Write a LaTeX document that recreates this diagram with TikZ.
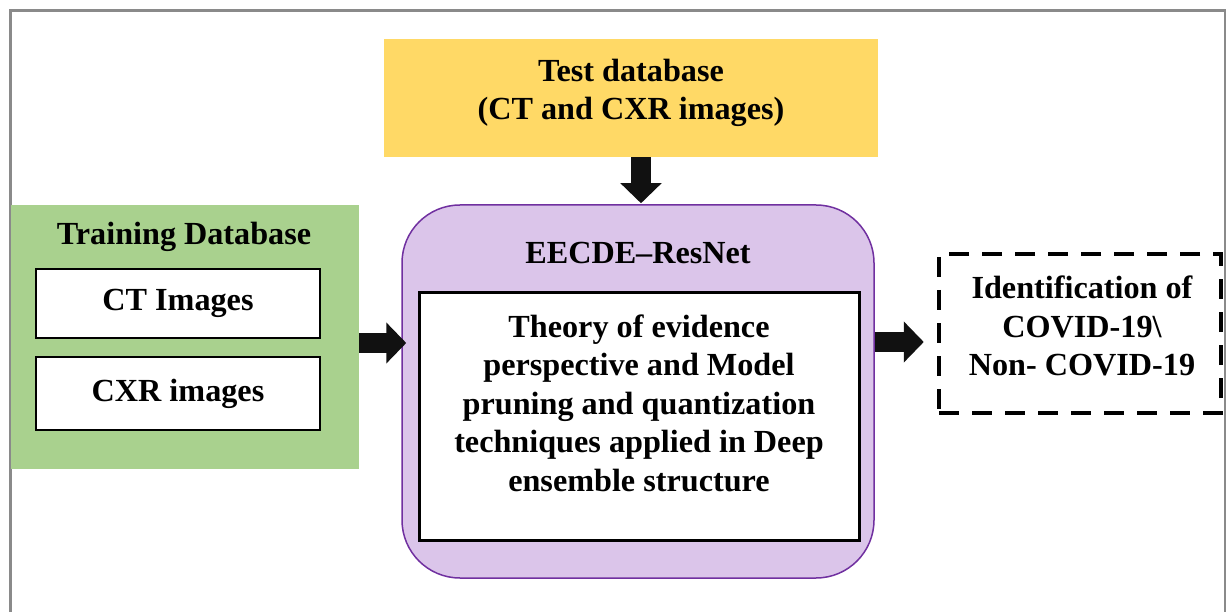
\documentclass[tikz,border=0pt]{standalone}
\usepackage{fontspec}
\setmainfont{Liberation Serif}
\usetikzlibrary{arrows.meta}
\definecolor{framegray}{HTML}{8A8A8A}
\definecolor{testfill}{HTML}{FFD966}
\definecolor{trainfill}{HTML}{A9D18E}
\definecolor{netfill}{HTML}{DBC5EA}
\definecolor{netline}{HTML}{7030A0}
\definecolor{arrowblack}{HTML}{111111}
\tikzset{
  label text/.style={font=\bfseries\fontsize{32.2}{38.5}\selectfont, align=center, text=black},
  plainbox/.style={draw=black, line width=2pt, fill=white, inner sep=0pt},
  fat/.style={draw=arrowblack, line width=20pt, -{Triangle[length=20pt,width=40pt]}},
}
\begin{document}
\begin{tikzpicture}[x=1pt, y=-1pt]
  \useasboundingbox (0,0) rectangle (1226,612);
  % outer frame, open at the bottom
  \draw[framegray, line width=3pt] (10,612) -- (10,11) -- (1225,11) -- (1225,612);

  % test database
  \node[fill=testfill, minimum width=494pt, minimum height=118pt, inner sep=0pt] (test) at (631,98) {};
  \node[label text] (testtext) at (631,93) {Test database\\(CT and CXR images)};

  % training database with its two image sets
  \node[fill=trainfill, minimum width=348pt, minimum height=264pt, inner sep=0pt] (train) at (185,337) {};
  \node[label text] (traintitle) at (184,237) {Training Database};
  \node[plainbox, minimum width=284pt, minimum height=69pt, label text] (ct) at (178,303.5) {CT Images};
  \node[plainbox, minimum width=284pt, minimum height=73pt, label text] (cxr) at (178,393.5) {CXR images};

  % ensemble network
  \node[draw=netline, line width=1.5pt, fill=netfill, rounded corners=58pt,
        minimum width=472pt, minimum height=373pt, inner sep=0pt] (net) at (638,391.5) {};
  \node[label text] (nettitle) at (638,253) {EECDE--ResNet};
  \node[draw=black, line width=3pt, fill=white, minimum width=440pt, minimum height=247pt,
        inner sep=0pt] (inner) at (639,416.5) {};
  \node[label text] (innertext) at (639,403)
    {Theory of evidence\\perspective and Model\\pruning and quantization\\techniques applied in Deep\\ensemble structure};

  % output
  \node[draw=black, line width=4.5pt, dash pattern=on 20pt off 13pt,
        minimum width=282pt, minimum height=159pt, inner sep=0pt] (result) at (1080,333.5) {};
  \node[label text] (resulttext) at (1082,326) {Identification of\\COVID-19\textbackslash\\Non- COVID-19};

  % connectors
  \draw[fat] ([yshift=-6pt]train.east) -- ([yshift=-6pt,xshift=5pt]train.east -| net.west);
  \draw[fat] ([xshift=10pt]test.south) -- ([xshift=10pt,yshift=1pt]test.south |- net.north);
  \draw[fat] ([yshift=49.5pt]net.east) -- ([yshift=49.5pt,xshift=49pt]net.east);
\end{tikzpicture}
\end{document}
